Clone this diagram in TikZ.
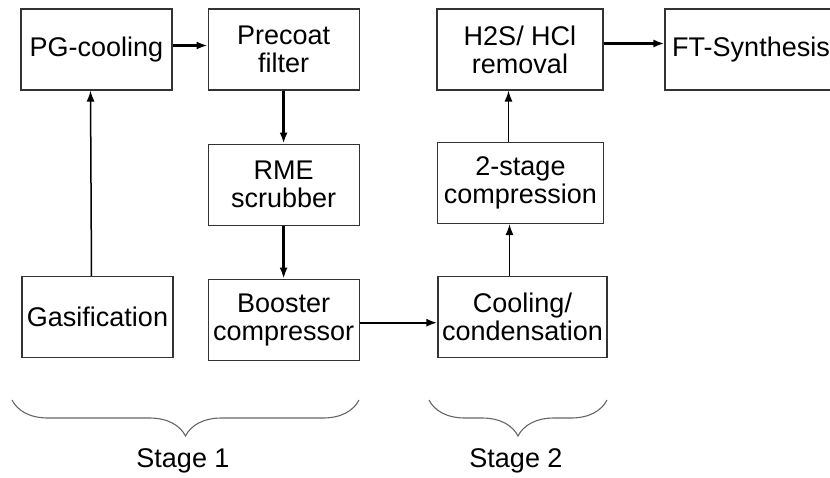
\documentclass[tikz,border=0pt]{standalone}
\usepackage{fontspec}
\setmainfont{Liberation Sans}
\usetikzlibrary{arrows.meta,positioning,decorations.pathreplacing}

\begin{document}
\begin{tikzpicture}[x=1pt,y=-1pt,font=\fontsize{27}{28}\selectfont,
n/.style={draw=black!80,line width=1.1pt,minimum width=151pt,minimum height=81pt,align=center,inner sep=0pt},
a/.style={-{Latex[length=11pt,width=8pt]},line width=2.3pt},
b/.style={-{Latex[length=11pt,width=8pt]},line width=1.5pt},
br/.style={draw=black!60,line width=1.1pt,decorate,decoration={brace,mirror,amplitude=36pt}}]
\useasboundingbox (0,0) rectangle (830,477);
\node[n](pg) at (96.5,49.5){PG-cooling};
\node[n,right=35pt of pg](pre){Precoat\\filter};
\node[n,below=53pt of pre](rme){RME\\scrubber};
\node[n,below=53pt of rme](boo){Booster\\compressor};
\node[n](gas) at (97.5,317){Gasification};
\node[n,minimum width=169pt](cool) at (522.5,317){Cooling/\\condensation};
\node[n,minimum width=166pt](comp) at (520.5,183){2-stage\\compression};
\node[n,minimum width=166pt](h2s) at (520,49.5){H2S/ HCl\\removal};
\node[n,minimum width=172pt](ft) at (751,49.5){FT-Synthesis};
\draw[a]([yshift=4pt]pg.east)--([yshift=4pt]pre.west);
\draw[a](pre.south)--(rme.north);\draw[a](rme.south)--(boo.north);
\draw[b]([xshift=-6pt]gas.north)--([xshift=-6pt]pg.south);
\draw[a]([yshift=-3pt]boo.east)--([yshift=-3pt]boo.east-|cool.west);
\draw[b]([xshift=-13pt]cool.north)--([xshift=-13pt]cool.north|-comp.south);
\draw[b]([xshift=-12pt]comp.north)--([xshift=-12pt]comp.north|-h2s.south);
\draw[a]([yshift=6pt]h2s.east)--([yshift=6pt]ft.west);
% stages
\draw[br](12,400)--(359,400);
\draw[br](429,400)--(607,400);
\node(s1) at (183,461){Stage 1};
\node(s2) at (516,461){Stage 2};
\end{tikzpicture}
\end{document}
